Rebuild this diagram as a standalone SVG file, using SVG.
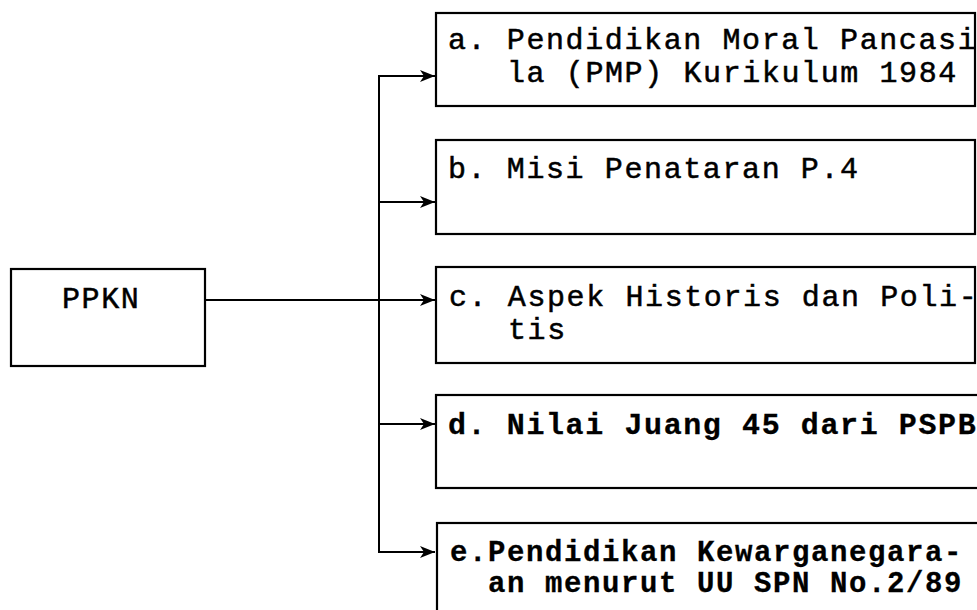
<svg xmlns="http://www.w3.org/2000/svg" width="977" height="610" viewBox="0 0 977 610">
<defs>
<style>
.box{fill:#fff;stroke:#000;stroke-width:2.2}
.t{font-family:"Liberation Mono","Courier New",monospace;font-size:30px;letter-spacing:1.6px;fill:#000;stroke:#000;stroke-width:0.5}
.b{font-weight:bold;stroke-width:0.3}
.e{font-size:29px;letter-spacing:1.6px}
.ln{fill:none;stroke:#000;stroke-width:2}
</style>
<marker id="ah" markerWidth="16" markerHeight="14" refX="15" refY="7" orient="auto" markerUnits="userSpaceOnUse">
<path d="M0,1 L15,7 L0,13 L4,7 Z" fill="#000"/>
</marker>
</defs>
<rect width="977" height="610" fill="#fff"/>
<g id="connectors">
<line class="ln" x1="205" y1="300" x2="435" y2="300" marker-end="url(#ah)"/>
<polyline class="ln" points="435,76 379,76 379,552 435,552" marker-end="url(#ah)"/>
<line class="ln" x1="379" y1="202" x2="435" y2="202" marker-end="url(#ah)"/>
<line class="ln" x1="379" y1="424" x2="435" y2="424" marker-end="url(#ah)"/>
<line class="ln" x1="379" y1="76" x2="435" y2="76" marker-end="url(#ah)"/>
</g>
<g id="ppkn">
<rect class="box" x="11" y="269" width="194" height="97"/>
<text class="t" x="62" y="308">PPKN</text>
</g>
<g id="node-a">
<rect class="box" x="436" y="13" width="539" height="93"/>
<text class="t" x="448" y="49">a. Pendidikan Moral Pancasi</text>
<text class="t" x="507" y="82">la (PMP) Kurikulum 1984</text>
</g>
<g id="node-b">
<rect class="box" x="436" y="140" width="539" height="94"/>
<text class="t" x="448" y="178">b. Misi Penataran P.4</text>
</g>
<g id="node-c">
<rect class="box" x="436" y="267" width="539" height="96"/>
<text class="t" x="449" y="306">c. Aspek Historis dan Poli-</text>
<text class="t" x="508" y="339">tis</text>
</g>
<g id="node-d">
<rect class="box" x="436" y="395" width="545" height="93"/>
<text class="t b" x="448" y="434">d. Nilai Juang 45 dari PSPB</text>
</g>
<g id="node-e">
<rect class="box" x="437" y="523" width="545" height="100"/>
<text class="t b e" x="450" y="561">e.Pendidikan Kewarganegara-</text>
<text class="t b e" x="488" y="592">an menurut UU SPN No.2/89</text>
</g>
</svg>
